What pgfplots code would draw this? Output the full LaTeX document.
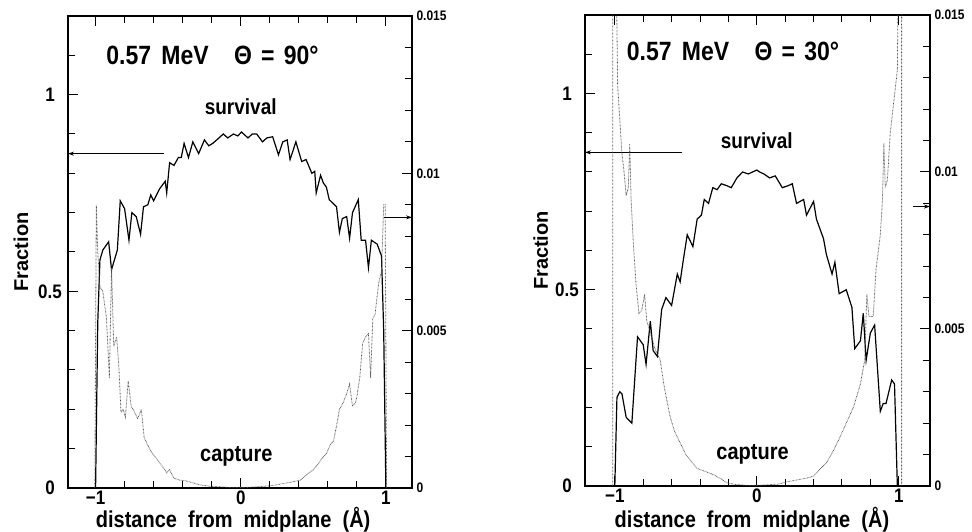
\documentclass[border=0pt]{standalone}
\usepackage{fontspec}
\setmainfont{Liberation Sans}
\usepackage{graphicx}
\usepackage{pgfplots}
\pgfplotsset{compat=1.18}
\usetikzlibrary{arrows.meta}
\newcommand{\fs}[1]{\fontsize{#1}{#1}\selectfont\bfseries}
\newcommand{\vs}[1]{\scalebox{1}[1.15]{#1}}
\pgfplotsset{
  base/.style={scale only axis, anchor=south west,
    tick align=inside, major tick length=10pt, minor tick length=7pt,
    axis line style={line width=1.1pt},
    every tick/.append style={line width=1pt, black},
    scaled ticks=false,
    /pgf/number format/assume math mode=true},
  leftax/.style={base, ymin=0, ymax=1.2,
    xtick={-1,0,1}, xticklabels={\vs{−1},\vs{0},\vs{1}},
    minor xtick={-0.8,-0.6,-0.4,-0.2,0.2,0.4,0.6,0.8},
    ytick={0,0.5,1}, yticklabels={\vs{0},\vs{0.5},\vs{1}},
    minor ytick={0.1,0.2,0.3,0.4,0.6,0.7,0.8,0.9,1.1},
    ytick pos=left, xtick pos=both, xticklabel pos=lower,
    xticklabel style={anchor=base, yshift=-17pt, font=\fs{17}, inner sep=0pt},
    yticklabel style={anchor=center, xshift=-18pt, font=\fs{17}},
    xlabel={\vs{distance\ \ from\ \ midplane\ \ (Å)}},
    ylabel={Fraction},
    xlabel style={anchor=base, font=\fs{20}, inner sep=0pt},
    ylabel style={anchor=center, font=\fs{20}}},
  rightax/.style={base, hide x axis, axis y line*=right, xtick=\empty,
    ymin=0, ymax=0.015,
    ytick={0,0.005,0.01,0.015}, yticklabels={\vs{0},\vs{0.005},\vs{0.01},\vs{0.015}},
    minor ytick={0.001,0.002,0.003,0.004,0.006,0.007,0.008,0.009,0.011,0.012,0.013,0.014},
    yticklabel style={anchor=west, xshift=1pt, font=\fs{12}}},
  surv/.style={black, line width=1.2pt},
  capt/.style={black!70, line width=0.8pt, dash pattern=on 0.6pt off 0.8pt},
}
\pgfplotstableread{
x y
-1.0 0
-0.985 0.42
-0.97 0.58
-0.95 0.605
-0.91 0.626
-0.89 0.555
-0.85 0.605
-0.83 0.73
-0.80 0.71
-0.77 0.63
-0.75 0.70
-0.72 0.69
-0.69 0.645
-0.67 0.715
-0.64 0.72
-0.62 0.745
-0.60 0.73
-0.56 0.76
-0.52 0.78
-0.51 0.75
-0.49 0.827
-0.46 0.82
-0.43 0.84
-0.41 0.84
-0.39 0.876
-0.36 0.84
-0.33 0.88
-0.29 0.85
-0.25 0.885
-0.22 0.87
-0.19 0.877
-0.15 0.89
-0.12 0.90
-0.09 0.89
-0.05 0.90
-0.02 0.895
0.005 0.905
0.05 0.89
0.08 0.90
0.11 0.90
0.15 0.88
0.18 0.89
0.22 0.893
0.26 0.847
0.29 0.88
0.32 0.885
0.34 0.835
0.38 0.88
0.42 0.83
0.45 0.835
0.49 0.80
0.51 0.805
0.52 0.75
0.55 0.795
0.57 0.775
0.59 0.765
0.61 0.733
0.66 0.715
0.68 0.65
0.70 0.685
0.73 0.69
0.75 0.635
0.77 0.70
0.81 0.733
0.83 0.63
0.86 0.63
0.88 0.56
0.90 0.63
0.94 0.62
0.97 0.59
0.985 0.40
1.0 0
}\survA
\pgfplotstableread{
x y
-1.005 0
-0.995 0.0090
-0.985 0.0075
-0.97 0.0064
-0.95 0.00625
-0.925 0.0054
-0.905 0.0035
-0.89 0.0070
-0.875 0.0045
-0.855 0.0048
-0.84 0.0039
-0.825 0.0024
-0.81 0.0025
-0.795 0.00225
-0.775 0.0034
-0.755 0.0026
-0.73 0.0024
-0.71 0.0022
-0.685 0.0025
-0.665 0.0016
-0.645 0.0014
-0.61 0.0011
-0.58 0.00094
-0.56 0.0008
-0.53 0.00063
-0.51 0.00048
-0.49 0.00058
-0.46 0.00031
-0.42 0.00025
-0.38 0.00023
-0.32 0.00015
-0.28 0.0001
-0.22 0.00006
-0.15 0.00004
-0.05 0.00001
0.05 0.00002
0.15 0.00005
0.22 0.00008
0.28 0.00013
0.34 0.00018
0.41 0.00025
0.46 0.00044
0.50 0.00058
0.53 0.00075
0.56 0.00094
0.59 0.0011
0.62 0.0014
0.64 0.0015
0.665 0.0021
0.68 0.0025
0.705 0.0027
0.73 0.0030
0.75 0.0033
0.77 0.0026
0.79 0.0027
0.80 0.0029
0.82 0.0035
0.84 0.0046
0.86 0.0048
0.88 0.0049
0.895 0.0035
0.91 0.0054
0.925 0.0055
0.95 0.0065
0.97 0.0069
0.985 0.0090
0.995 0.0090
1.005 0
}\captA
\pgfplotstableread{
x y
-1.0 0
-0.985 0.226
-0.965 0.24
-0.95 0.235
-0.92 0.175
-0.88 0.16
-0.84 0.38
-0.80 0.36
-0.78 0.31
-0.75 0.42
-0.73 0.345
-0.70 0.33
-0.67 0.45
-0.64 0.48
-0.60 0.46
-0.56 0.54
-0.54 0.52
-0.52 0.57
-0.49 0.64
-0.45 0.61
-0.42 0.68
-0.39 0.69
-0.37 0.73
-0.34 0.72
-0.31 0.76
-0.28 0.755
-0.25 0.77
-0.21 0.765
-0.18 0.76
-0.14 0.785
-0.10 0.80
-0.06 0.795
-0.03 0.80
0.0 0.805
0.02 0.80
0.05 0.795
0.09 0.785
0.13 0.79
0.18 0.76
0.22 0.765
0.25 0.77
0.28 0.72
0.33 0.73
0.35 0.69
0.40 0.725
0.42 0.68
0.47 0.63
0.49 0.59
0.53 0.54
0.55 0.57
0.58 0.49
0.63 0.50
0.67 0.455
0.69 0.35
0.73 0.37
0.75 0.44
0.77 0.32
0.80 0.39
0.83 0.41
0.87 0.19
0.89 0.21
0.91 0.21
0.95 0.27
0.97 0.26
0.99 0
}\survB
\pgfplotstableread{
x y
-1.015 0
-1.015 0.02
-1.0 0.02
-0.98 0.01275
-0.95 0.0106
-0.935 0.0100
-0.92 0.00925
-0.905 0.0095
-0.895 0.0109
-0.885 0.0091
-0.87 0.00775
-0.85 0.0064
-0.83 0.0055
-0.81 0.0056
-0.79 0.0061
-0.775 0.00525
-0.75 0.0049
-0.72 0.0044
-0.68 0.0040
-0.65 0.0031
-0.61 0.0022
-0.58 0.00175
-0.54 0.00138
-0.50 0.001
-0.47 0.00083
-0.42 0.00056
-0.35 0.00044
-0.30 0.00035
-0.26 0.00025
-0.21 0.0001
-0.15 0.00005
-0.05 0.00001
0.05 0.00003
0.15 0.00006
0.21 0.00013
0.28 0.00019
0.35 0.00025
0.40 0.00031
0.45 0.00056
0.49 0.00073
0.54 0.00113
0.58 0.0015
0.63 0.002
0.68 0.0025
0.73 0.00325
0.76 0.004
0.775 0.0061
0.79 0.0054
0.82 0.0054
0.84 0.0069
0.87 0.008
0.885 0.0091
0.895 0.0109
0.905 0.0095
0.92 0.00975
0.94 0.01125
0.965 0.01225
0.99 0.01325
1.005 0.02
1.02 0.02
1.02 0
}\captB
\begin{document}
\begin{tikzpicture}
\useasboundingbox (0,0) rectangle (972pt,532pt);
% ---------- left panel ----------
\begin{axis}[leftax, at={(68pt,44pt)}, width=344pt, height=472pt,
  xmin=-1.19, xmax=1.18,
  xlabel style={at={(axis description cs:0.48,-0.083)}},
  ylabel style={at={(axis description cs:-0.137,0.5)}}]
\addplot[surv] table {\survA};
\addplot[black, line width=1pt, -{Stealth[length=6pt,width=4pt]}] coordinates {(-0.53,0.85) (-1.19,0.85)};
\node[anchor=west, font=\fs{23}] at (axis cs:-0.95,1.10) {\vs{0.57\hspace{0.45em}MeV\hspace{1.1em}Θ\hspace{0.4em}=\hspace{0.4em}90°}};
\node[font=\fs{19}] at (axis cs:0,0.97) {\vs{survival}};
\node[font=\fs{20}] at (axis cs:-0.03,0.08) {\vs{capture}};
\end{axis}
\begin{axis}[rightax, at={(68pt,44pt)}, width=344pt, height=472pt,
  xmin=-1.19, xmax=1.18]
\addplot[capt] table {\captA};
\addplot[black, line width=1pt, -{Stealth[length=6pt,width=4pt]}] coordinates {(0.99,0.0086) (1.18,0.0086)};
\end{axis}
% ---------- right panel ----------
\begin{axis}[leftax, at={(585pt,46pt)}, width=345pt, height=471pt,
  xmin=-1.21, xmax=1.22,
  xlabel style={at={(axis description cs:0.484,-0.0875)}},
  ylabel style={at={(axis description cs:-0.128,0.5)}}]
\addplot[surv] table {\survB};
\addplot[black, line width=1pt, -{Stealth[length=6pt,width=4pt]}] coordinates {(-0.53,0.85) (-1.21,0.85)};
\node[anchor=west, font=\fs{23}] at (axis cs:-0.94,1.107) {\vs{0.57\hspace{0.45em}MeV\hspace{1.1em}Θ\hspace{0.4em}=\hspace{0.4em}30°}};
\node[font=\fs{19}] at (axis cs:0,0.88) {\vs{survival}};
\node[font=\fs{20}] at (axis cs:-0.03,0.08) {\vs{capture}};
\end{axis}
\begin{axis}[rightax, at={(585pt,46pt)}, width=345pt, height=471pt,
  xmin=-1.21, xmax=1.22]
\addplot[capt] table {\captB};
\addplot[black, line width=1pt, -{Stealth[length=6pt,width=4pt]}] coordinates {(1.10,0.0089) (1.22,0.0089)};
\end{axis}
\end{tikzpicture}
\end{document}
